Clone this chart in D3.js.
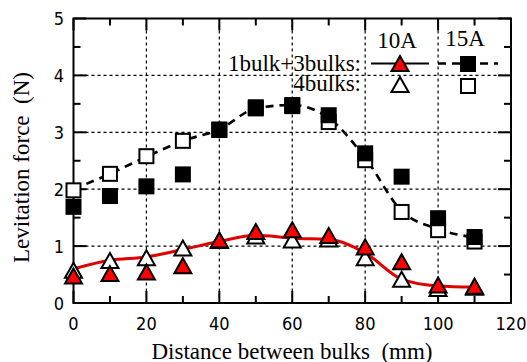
<!DOCTYPE html>
<html>
<head>
<meta charset="utf-8">
<script src="https://cdn.jsdelivr.net/npm/d3@7"></script>
<style>
  html, body { margin: 0; padding: 0; background: #fff; }
  svg { display: block; }
  .tick-label { font-family: "Liberation Sans Narrow", "Arial Narrow", "DejaVu Sans Condensed", sans-serif; font-size: 18px; fill: #000; }
  .serif { font-family: "Liberation Serif", "Times New Roman", serif; fill: #000; }
</style>
</head>
<body>
<svg id="chart" width="527" height="362"></svg>
<script>
// ---- Data ----
const distances = [0, 10, 20, 30, 40, 50, 60, 70, 80, 90, 100, 110];
const tri10Mixed = [0.45, 0.49, 0.52, 0.63, 1.08, 1.23, 1.26, 1.16, 0.96, 0.70, 0.29, 0.27];
const tri10Four  = [0.55, 0.72, 0.77, 0.94, 1.07, 1.15, 1.08, 1.10, 0.77, 0.39, 0.23, 0.25];
const sq15Mixed  = [1.69, 1.88, 2.05, 2.26, 3.05, 3.44, 3.48, 3.30, 2.63, 2.22, 1.49, 1.16];
const sq15Four   = [1.98, 2.27, 2.58, 2.85, 3.04, 3.42, 3.46, 3.18, 2.51, 1.60, 1.28, 1.08];
const fit10      = [0.60, 0.75, 0.81, 0.94, 1.08, 1.19, 1.14, 1.12, 0.88, 0.42, 0.30, 0.28];
const fit15      = [2.00, 2.27, 2.57, 2.85, 3.05, 3.42, 3.48, 3.25, 2.55, 1.62, 1.30, 1.15];
const xTicks = [0, 20, 40, 60, 80, 100, 120];
const xMinorTicks = [10, 30, 50, 70, 90, 110];
const yTicks = [0, 1, 2, 3, 4, 5];
const yMinorTicks = [0.5, 1.5, 2.5, 3.5, 4.5];
const xGrid = [20, 40, 60, 80, 100];
const yGrid = [1, 2, 3, 4];
const legendCurrents = ["10A", "15A"];
const legendRows = ["1bulk+3bulks:", "4bulks:"];
const xTitle = "Distance between bulks\u00a0\u00a0(mm)";
const yTitle = "Levitation force\u00a0\u00a0(N)";

// ---- Layout ----
const svg = d3.select("#chart");
const L = 73.5, R = 511, T = 18.5, B = 303;
const x = d3.scaleLinear().domain([0, 120]).range([L, R]);
const y = d3.scaleLinear().domain([0, 5]).range([B, T]);

// grid
const g = svg.append("g");
g.selectAll(".vg").data(xGrid).join("line")
  .attr("x1", d => x(d)).attr("x2", d => x(d)).attr("y1", T).attr("y2", B)
  .attr("stroke", "#000").attr("stroke-width", 1.2).attr("stroke-dasharray", "3,3");
g.selectAll(".hg").data(yGrid).join("line")
  .attr("x1", L).attr("x2", R).attr("y1", d => y(d)).attr("y2", d => y(d))
  .attr("stroke", "#000").attr("stroke-width", 1.2).attr("stroke-dasharray", "3,3");

// ticks (inward, mirrored)
const tickG = svg.append("g").attr("stroke", "#000").attr("stroke-width", 2);
function xt(vals, len) {
  tickG.selectAll(null).data(vals).join("line")
    .attr("x1", d => x(d)).attr("x2", d => x(d)).attr("y1", B).attr("y2", B - len);
  tickG.selectAll(null).data(vals).join("line")
    .attr("x1", d => x(d)).attr("x2", d => x(d)).attr("y1", T).attr("y2", T + len);
}
function yt(vals, len) {
  tickG.selectAll(null).data(vals).join("line")
    .attr("y1", d => y(d)).attr("y2", d => y(d)).attr("x1", L).attr("x2", L + len);
  tickG.selectAll(null).data(vals).join("line")
    .attr("y1", d => y(d)).attr("y2", d => y(d)).attr("x1", R).attr("x2", R - len);
}
xt(xTicks, 12); xt(xMinorTicks, 7);
yt(yTicks, 13); yt(yMinorTicks, 7);

// frame
svg.append("rect").attr("x", L).attr("y", T).attr("width", R - L).attr("height", B - T)
  .attr("fill", "none").attr("stroke", "#000").attr("stroke-width", 2);

// tick labels
svg.append("g").selectAll("text").data(xTicks).join("text")
  .attr("class", "tick-label").attr("x", d => x(d)).attr("y", 330)
  .attr("text-anchor", "middle").text(d => d);
svg.append("g").selectAll("text").data(yTicks).join("text")
  .attr("class", "tick-label").attr("x", 64).attr("y", d => y(d) + 6.5)
  .attr("text-anchor", "end").text(d => d);

// axis titles
svg.append("text").attr("class", "serif").attr("font-size", 23)
  .attr("x", 292).attr("y", 359).attr("text-anchor", "middle").text(xTitle);
svg.append("text").attr("class", "serif").attr("font-size", 23)
  .attr("transform", "translate(29,167.5) rotate(-90)")
  .attr("text-anchor", "middle").text(yTitle);

// lines
const pts = vals => distances.map((d, i) => [d, vals[i]]);
const lineGen = d3.line().x(d => x(d[0])).y(d => y(d[1])).curve(d3.curveMonotoneX);
svg.append("path").attr("d", lineGen(pts(fit15))).attr("fill", "none")
  .attr("stroke", "#000").attr("stroke-width", 2.6).attr("stroke-dasharray", "8,6");
svg.append("path").attr("d", lineGen(pts(fit10))).attr("fill", "none")
  .attr("stroke", "#e00000").attr("stroke-width", 3);

// markers
const triPath = "M0,-9 L8.5,6 L-8.5,6 Z";
function squares(vals, fill) {
  svg.append("g").selectAll("rect").data(pts(vals)).join("rect")
    .attr("x", d => x(d[0]) - 7).attr("y", d => y(d[1]) - 7)
    .attr("width", 14).attr("height", 14)
    .attr("fill", fill).attr("stroke", "#000").attr("stroke-width", 2);
}
function tris(vals, fill) {
  svg.append("g").selectAll("path").data(pts(vals)).join("path")
    .attr("d", triPath)
    .attr("transform", d => `translate(${x(d[0])},${y(d[1])})`)
    .attr("fill", fill).attr("stroke", "#000").attr("stroke-width", 2).attr("stroke-linejoin", "miter");
}
squares(sq15Four, "#fff");
squares(sq15Mixed, "#000");
tris(tri10Four, "#fff");
tris(tri10Mixed, "#ff0000");

// legend
const lg = svg.append("g");
const legX = [400, 468];
lg.selectAll("text.cur").data(legendCurrents).join("text")
  .attr("class", "serif").attr("font-size", 23)
  .attr("x", (d, i) => legX[i] - 3).attr("y", (d, i) => i === 0 ? 48 : 46)
  .attr("text-anchor", "middle").text(d => d);
lg.selectAll("text.row").data(legendRows).join("text")
  .attr("class", "serif").attr("font-size", 23)
  .attr("x", 361).attr("y", (d, i) => i === 0 ? 71 : 91)
  .attr("text-anchor", "end").text(d => d);
lg.append("line").attr("x1", 371).attr("x2", 429).attr("y1", 63.5).attr("y2", 63.5)
  .attr("stroke", "#000").attr("stroke-width", 2);
lg.append("line").attr("x1", 438).attr("x2", 498).attr("y1", 63.5).attr("y2", 63.5)
  .attr("stroke", "#000").attr("stroke-width", 2.6).attr("stroke-dasharray", "8,6");
lg.append("path").attr("d", triPath).attr("transform", `translate(${legX[0]},65)`)
  .attr("fill", "#ff0000").attr("stroke", "#000").attr("stroke-width", 2);
lg.append("path").attr("d", triPath).attr("transform", `translate(${legX[0]},86)`)
  .attr("fill", "#fff").attr("stroke", "#000").attr("stroke-width", 2);
lg.append("rect").attr("x", legX[1] - 7).attr("y", 57).attr("width", 14).attr("height", 14)
  .attr("fill", "#000").attr("stroke", "#000").attr("stroke-width", 2);
lg.append("rect").attr("x", legX[1] - 7).attr("y", 79).attr("width", 14).attr("height", 14)
  .attr("fill", "#fff").attr("stroke", "#000").attr("stroke-width", 2);
</script>
</body>
</html>
